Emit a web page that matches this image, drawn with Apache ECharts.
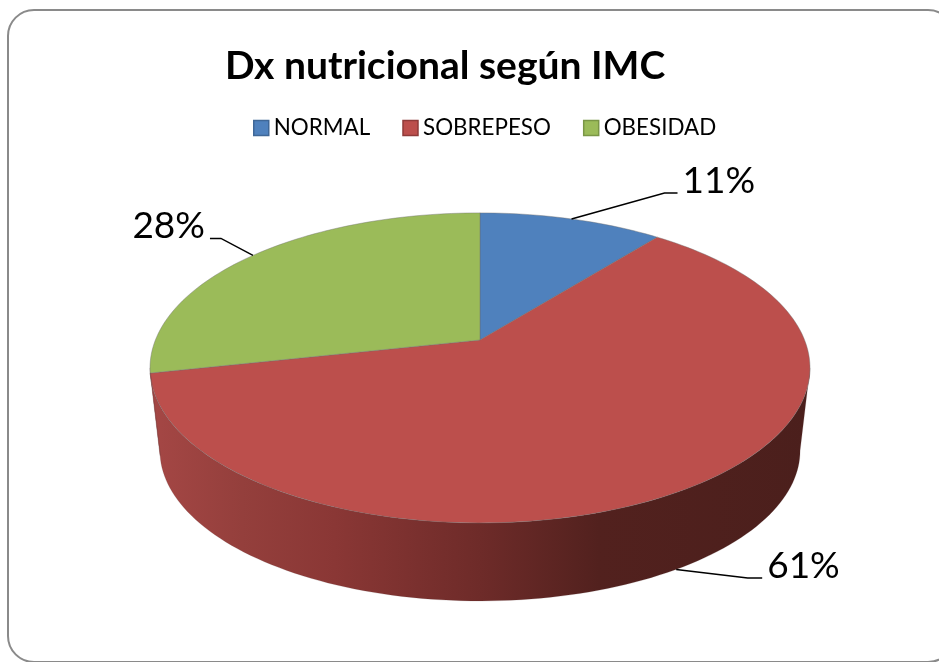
<!DOCTYPE html>
<html>
<head>
<meta charset="utf-8">
<style>
    html, body { margin: 0; padding: 0; background: #fff; }
    #chart { width: 939px; height: 662px; }
</style>
<script src="https://cdn.jsdelivr.net/npm/echarts@6/dist/echarts.min.js"></script>
</head>
<body>
<div id="chart"></div>
<script>
const categories = ['NORMAL', 'SOBREPESO', 'OBESIDAD']
// labels print 11, 61, 28; decimals estimated from the slice edges
const values = [10.7, 60.9, 28.4]
const colors = ['#4f81bd', '#bc4f4c', '#9bbb59']
const borderColors = ['#3f6797', '#8f3b39', '#7a9646']

const fontName = 'Lato'
const total = values.reduce((a, b) => a + b, 0)

// perspective of the disc, measured on the picture
const top3d = { cx: 480, cy: 340, a: 324.6, b: 150, k: 0.18 }
const bottom3d = { cx: 480, cy: 423.5, scale: 0.97 }

const rad = (deg) => deg * Math.PI / 180
const frontStart = 90 + Math.asin(top3d.k) * 180 / Math.PI
const frontEnd = 360 - frontStart

// angle is clockwise from 12 o'clock
const rimPoint = (deg) => {
    const u = Math.sin(rad(deg))
    const v = Math.cos(rad(deg))
    const w = 1 + top3d.k * v
    return [top3d.cx + top3d.a * u / w, top3d.cy - top3d.b * v / w]
}
const lowerPoint = (deg) => {
    const p = rimPoint(deg)
    return [
        bottom3d.cx + (p[0] - top3d.cx) * bottom3d.scale,
        bottom3d.cy + (p[1] - top3d.cy) * bottom3d.scale
    ]
}
const arc = (from, to, fn) => {
    const pts = []
    const steps = Math.max(2, Math.ceil(Math.abs(to - from) / 1.5))
    for (let i = 0; i <= steps; i++) {
        pts.push(fn(from + (to - from) * i / steps))
    }
    return pts
}

// offsets of the leader line from the rim point, and where the text sits
const leaders = [
    { elbow: [93, -26], end: [106, -26], align: 'left', gap: 5, lower: false },
    { elbow: [71.5, 8.6], end: [86, 8.6], align: 'left', gap: 5, lower: true },
    { elbow: [-32, -17], end: [-43, -17], align: 'right', gap: -5, lower: false }
]

const wallFill = new echarts.graphic.LinearGradient(150, 0, 810, 0, [
    { offset: 0, color: '#a54745' },
    { offset: 0.14, color: '#943f3c' },
    { offset: 0.28, color: '#8a3735' },
    { offset: 0.5, color: '#6e2b29' },
    { offset: 0.68, color: '#52211e' },
    { offset: 1, color: '#4b1f1c' }
], true)

const sliceRender = (index) => (params, api) => {
    const before = values.slice(0, index).reduce((a, b) => a + b, 0)
    const start = before / total * 360
    const end = (before + api.value(0)) / total * 360
    const mid = (start + end) / 2
    const children = []

    const wallFrom = Math.max(start, frontStart)
    const wallTo = Math.min(end, frontEnd)
    if (wallTo > wallFrom) {
        const wall = arc(wallFrom, wallTo, rimPoint).concat(arc(wallTo, wallFrom, lowerPoint))
        children.push({
            type: 'polygon',
            shape: { points: wall },
            style: { fill: wallFill, stroke: 'rgba(90,60,60,0.35)', lineWidth: 0.5 }
        })
    }

    const face = [[top3d.cx, top3d.cy]].concat(arc(start, end, rimPoint))
    children.push({
        type: 'polygon',
        shape: { points: face },
        style: { fill: colors[index], stroke: 'rgba(110,110,110,0.55)', lineWidth: 0.75 }
    })

    const lead = leaders[index]
    const anchor = lead.lower ? lowerPoint(mid) : rimPoint(mid)
    const endX = anchor[0] + lead.end[0]
    const endY = anchor[1] + lead.end[1]
    children.push({
        type: 'polyline',
        shape: { points: [anchor, [anchor[0] + lead.elbow[0], anchor[1] + lead.elbow[1]], [endX, endY]] },
        style: { fill: null, stroke: '#000', lineWidth: 1.5 }
    })
    children.push({
        type: 'text',
        style: {
            x: endX + lead.gap,
            y: endY - 12,
            text: Math.round(api.value(0) / total * 100) + '%',
            fill: '#000',
            font: '37px ' + fontName,
            align: lead.align,
            verticalAlign: 'middle'
        }
    })
    return { type: 'group', children }
}

const chartInstance = echarts.init(document.getElementById('chart'))
chartInstance.setOption({
    animation: false,
    backgroundColor: '#fff',
    title: {
        text: 'Dx nutricional según IMC',
        left: 225,
        top: 43,
        padding: 0,
        textStyle: { color: '#000', fontFamily: fontName, fontWeight: 'bold', fontSize: 39, lineHeight: 46 }
    },
    legend: {
        left: 253,
        top: 117,
        padding: 0,
        itemWidth: 15,
        itemHeight: 15,
        itemGap: 32,
        selectedMode: false,
        icon: 'rect',
        data: categories,
        itemStyle: { borderWidth: 1.5 },
        textStyle: { color: '#000', fontFamily: fontName, fontSize: 22.4 }
    },
    graphic: [{
        type: 'rect',
        z: -1,
        silent: true,
        shape: { x: 8, y: 10, width: 946, height: 652, r: 26 },
        style: { fill: '#fff', stroke: '#8a8a8a', lineWidth: 2 }
    }],
    series: categories.map((name, i) => ({
        type: 'custom',
        name,
        coordinateSystem: 'none',
        silent: true,
        itemStyle: { color: colors[i], borderColor: borderColors[i] },
        renderItem: sliceRender(i),
        data: [[values[i]]]
    }))
})
</script>
</body>
</html>
